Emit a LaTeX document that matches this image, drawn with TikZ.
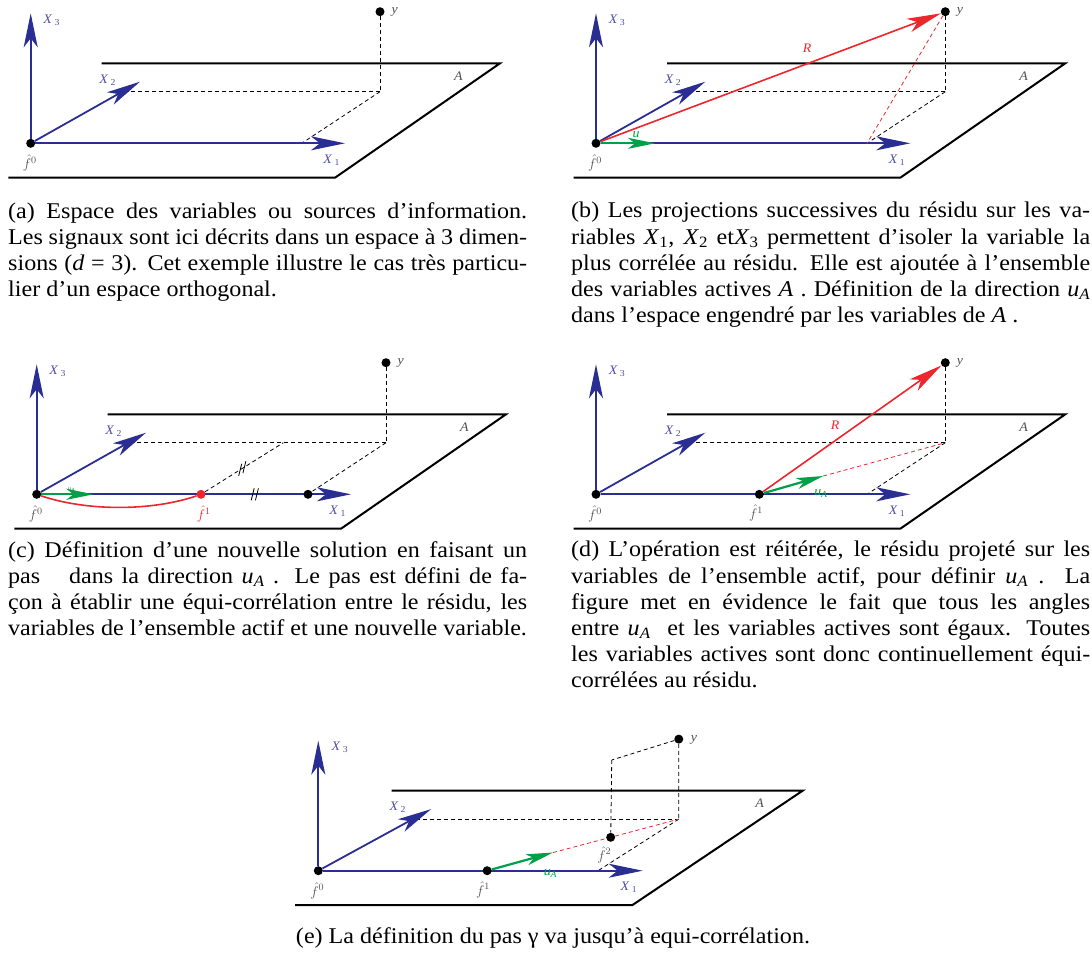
\RequirePackage{fix-cm}
\documentclass[tikz,border=0pt]{standalone}
\usepackage{fontspec}
\setmainfont{Liberation Serif}[FakeStretch=1.07]
\usetikzlibrary{arrows.meta,calc}

\definecolor{axisblue}{RGB}{42,46,146}
\definecolor{lblblue}{RGB}{78,80,165}
\definecolor{resred}{RGB}{236,38,44}
\definecolor{dirgreen}{RGB}{0,160,72}
\definecolor{lblgray}{RGB}{80,80,80}

\newcommand{\xvar}[1]{\textit{X}\textsubscript{#1}}
\newcommand{\uA}{\textit{u}\textsubscript{\textit{A}}}

% plan A, axes X1 X2 X3, f0 et y avec ses projections
\newcommand{\basespace}{%
  \draw[plane] (71,-80) -- (469.3,-80) -- (304.3,34.4) -- (-22.4,34.4);
  \node[lbl] (la) at (427.6,-67.3) {\textit{A}};
  \coordinate (x1) at (314.3,0);
  \coordinate (x2) at (109.3,-61.6);
  \coordinate (x3) at (0,-130);
  \coordinate (p) at (349.3,-51.6);
  \coordinate (q1) at (271,0);
  \coordinate (q2) at (97,-51.6);
  \node[dot] (f0) at (0,0) {};
  \node[dot] (y) at (349.3,-131.6) {};
  \draw[proj] (y) -- (p);
  \draw[proj] (p) -- (q2);
  \draw[proj] (p) -- (q1);
  \draw[axis] (f0) -- (x1);
  \draw[axis] (f0) -- (x2);
  \draw[axis] (f0) -- (x3);
  \node[xlbl] (lx1) at (301,17) {\textit{X}\,\textsubscript{1}};
  \node[xlbl] (lx2) at (77,-63) {\textit{X}\,\textsubscript{2}};
  \node[xlbl] (lx3) at (21,-123) {\textit{X}\,\textsubscript{3}};
  \node[lbl] (ly) at (364,-131) {\textit{y}};
  \node[flbl] (lf0) at (-1,20) {$\hat{f}^{0}$};
}

\begin{document}
\begin{tikzpicture}[x=1pt, y=-1pt,
  plane/.style={line width=2pt, line join=miter},
  axis/.style={draw=axisblue, line width=1.8pt, -{Stealth[length=34pt, width=14pt, inset=9pt]}},
  resid/.style={draw=resred, line width=1.6pt, -{Stealth[length=34pt, width=14pt, inset=9pt]}},
  dirarrow/.style={draw=dirgreen, line width=2.2pt, -{Stealth[length=27pt, width=11pt, inset=7pt]}},
  proj/.style={line width=0.8pt, dash pattern=on 4pt off 3pt},
  eqtick/.style={line width=0.8pt},
  dot/.style={circle, fill=black, inner sep=0pt, minimum size=9pt},
  lbl/.style={font=\fontsize{13}{15}\selectfont, text=lblgray, inner sep=1pt},
  xlbl/.style={lbl, text=lblblue},
  rlbl/.style={lbl, text=resred},
  ulbl/.style={font=\fontsize{13}{14}\selectfont, text=dirgreen, inner sep=1pt},
  flbl/.style={font=\fontsize{14}{15}\selectfont, text=lblgray, inner sep=0.5pt},
  capt/.style={font=\fontsize{22.5}{26.2}\selectfont, text width=519pt, align=justify, inner sep=0pt, anchor=north west}
]
\useasboundingbox (0,0) rectangle (1092,954);

% (a)
\begin{scope}[shift={(30.7,143.3)}, name prefix=a-]
  \basespace
\end{scope}

% (b)
\begin{scope}[shift={(596,143.3)}, name prefix=b-]
  \basespace
  \coordinate (u) at (59,0);
  \draw[dirarrow] (f0) -- (u);
  \node[ulbl] (lu) at (40,-9) {\textit{u}};
  \draw[proj, draw=resred] (y) -- (q1);
  \draw[resid] (f0) -- (y);
  \node[rlbl] (lr) at (211,-95) {\textit{R}};
\end{scope}

% (c)
\begin{scope}[shift={(36.7,494.3)}, name prefix=c-]
  \basespace
  \node[dot, fill=resred] (f1) at (164.3,0) {};
  \node[dot] (g) at (271.3,0) {};
  \coordinate (r) at (246.6,-51.6);
  \coordinate (ua) at (56.7,0);
  \draw[proj] (f1) -- (r);
  \draw[draw=resred, line width=1.6pt] (f0) .. controls (50,17) and (115,17) .. (f1);
  \draw[dirarrow] (f0) -- (ua);
  \draw[eqtick] (202,-18.5) -- ++(3,-12);
  \draw[eqtick] (206.2,-21.1) -- ++(3,-12);
  \draw[eqtick] (214.5,6) -- ++(3,-12);
  \draw[eqtick] (218.7,6) -- ++(3,-12);
  \node[ulbl, font=\fontsize{6}{7}\selectfont] (lua) at (35,-5) {\uA};
  \node[flbl, text=resred] (lf1) at (167,20) {$\hat{f}^{1}$};
\end{scope}

% (d)
\begin{scope}[shift={(596,494.3)}, name prefix=d-]
  \basespace
  \node[dot] (f1) at (163.3,0) {};
  \coordinate (ua) at (227.3,-18.3);
  \draw[proj, draw=resred] (ua) -- (p);
  \draw[dirarrow] (f1) -- (ua);
  \draw[resid] (f1) -- (y);
  \node[rlbl] (lr) at (239,-69) {\textit{R}};
  \node[ulbl] (lua) at (225,-1) {\uA};
  \node[flbl] (lf1) at (160,19) {$\hat{f}^{1}$};
\end{scope}

% (e)
\begin{scope}[shift={(318.3,870.7)}, xscale=1.032, name prefix=e-]
  \basespace
  \node[dot] (f1) at (163.6,0) {};
  \node[dot] (f2) at (283.3,-33.4) {};
  \coordinate (ua) at (227.5,-18.2);
  \coordinate (c2) at (284.3,-110.7);
  \draw[proj] (y) -- (c2);
  \draw[proj] (c2) -- (f2);
  \draw[proj, draw=resred] (ua) -- (f2);
  \draw[proj, draw=resred] (f2) -- (p);
  \draw[dirarrow] (f1) -- (ua);
  \node[ulbl] (lua) at (225,3) {\uA};
  \node[flbl] (lf2) at (277,-16) {$\hat{f}^{2}$};
  \node[flbl] (lf1) at (159.5,19) {$\hat{f}^{1}$};
\end{scope}

\node[capt] (capa) at (8,202) {(a) Espace des variables ou sources d'information.\linebreak
  Les signaux sont ici décrits dans un espace à 3 dimen-\linebreak
  sions (\textit{d} = 3). Cet exemple illustre le cas très particu-\linebreak
  lier d'un espace orthogonal.};
\node[capt] (capb) at (571,202) {(b) Les projections successives du résidu sur les va-\linebreak
  riables \xvar{1}, \xvar{2} et\xvar{3} permettent d'isoler la variable la\linebreak
  plus corrélée au résidu. Elle est ajoutée à l'ensemble\linebreak
  des variables actives \textit{A} . Définition de la direction \uA\linebreak
  dans l'espace engendré par les variables de \textit{A} .};
\node[capt] (capc) at (8,541) {(c) Définition d'une nouvelle solution en faisant un\linebreak
  pas\hspace{0.9em} dans la direction \uA{} . Le pas est défini de fa-\linebreak
  çon à établir une équi-corrélation entre le résidu, les\linebreak
  variables de l'ensemble actif et une nouvelle variable.};
\node[capt] (capd) at (571,541) {(d) L'opération est réitérée, le résidu projeté sur les\linebreak
  variables de l'ensemble actif, pour définir \uA{} . La\linebreak
  figure met en évidence le fait que tous les angles\linebreak
  entre \uA{}\ \ et les variables actives sont égaux. Toutes\linebreak
  les variables actives sont donc continuellement équi-\linebreak
  corrélées au résidu.};
\node[font=\fontsize{22.5}{26.2}\selectfont, inner sep=0pt, anchor=north] (cape) at (553,927) {(e) La définition du pas γ va jusqu'à equi-corrélation.};
\end{tikzpicture}
\end{document}
